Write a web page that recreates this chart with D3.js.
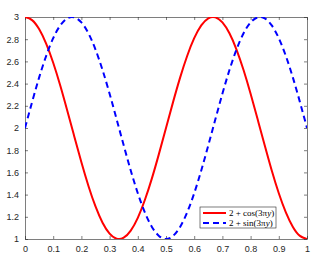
<!DOCTYPE html>
<html>
<head>
<meta charset="utf-8">
<script src="https://cdn.jsdelivr.net/npm/d3@7"></script>
<style>
  body { margin: 0; background: #fff; }
  svg { display: block; }
  .tick text { font-family: "Liberation Sans", Arial, sans-serif; font-size: 9px; fill: #262626; }
</style>
</head>
<body>
<div id="chart"></div>
<script>
// sample positions and values
var xs = [0, 0.025, 0.05, 0.075, 0.1, 0.125, 0.15, 0.175, 0.2, 0.225, 0.25, 0.275, 0.3, 0.325, 0.35, 0.375, 0.4,
  0.425, 0.45, 0.475, 0.5, 0.525, 0.55, 0.575, 0.6, 0.625, 0.65, 0.675, 0.7, 0.725, 0.75, 0.775, 0.8,
  0.825, 0.85, 0.875, 0.9, 0.925, 0.95, 0.975, 1];
var cosVals = [3.000, 2.972, 2.891, 2.760, 2.588, 2.383, 2.156, 1.922, 1.691, 1.478, 1.293, 1.147, 1.049, 1.003,
  1.012, 1.076, 1.191, 1.351, 1.546, 1.767, 2.000, 2.233, 2.454, 2.649, 2.809, 2.924, 2.988, 2.997, 2.951,
  2.853, 2.707, 2.522, 2.309, 2.078, 1.844, 1.617, 1.412, 1.240, 1.109, 1.028, 1.000];
var sinVals = [2.000, 2.233, 2.454, 2.649, 2.809, 2.924, 2.988, 2.997, 2.951, 2.853, 2.707, 2.522, 2.309, 2.078,
  1.844, 1.617, 1.412, 1.240, 1.109, 1.028, 1.000, 1.028, 1.109, 1.240, 1.412, 1.617, 1.844, 2.078, 2.309,
  2.522, 2.707, 2.853, 2.951, 2.997, 2.988, 2.924, 2.809, 2.649, 2.454, 2.233, 2.000];
var xTicks = [0, 0.1, 0.2, 0.3, 0.4, 0.5, 0.6, 0.7, 0.8, 0.9, 1];
var yTicks = [1, 1.2, 1.4, 1.6, 1.8, 2, 2.2, 2.4, 2.6, 2.8, 3];

var width = 327, height = 267;
var margin = { top: 17, right: 20, bottom: 28, left: 25 };
var w = width - margin.left - margin.right,
    h = height - margin.top - margin.bottom;

var svg = d3.select("#chart").append("svg")
  .attr("width", width)
  .attr("height", height);

var g = svg.append("g")
  .attr("transform", "translate(" + margin.left + "," + margin.top + ")");

var x = d3.scaleLinear().domain([0, 1]).range([0, w]);
var y = d3.scaleLinear().domain([1, 3]).range([h, 0]);

function fmt(d) { return d3.format("")(+d.toFixed(1)); }

// axes, ticks point inwards like the original
g.append("g")
  .attr("transform", "translate(0," + h + ")")
  .call(d3.axisBottom(x).tickValues(xTicks).tickSizeInner(-3).tickSizeOuter(0).tickPadding(7).tickFormat(fmt));
g.append("g")
  .call(d3.axisTop(x).tickValues(xTicks).tickSizeInner(-3).tickSizeOuter(0).tickFormat(""));
g.append("g")
  .call(d3.axisLeft(y).tickValues(yTicks).tickSizeInner(-3).tickSizeOuter(0).tickPadding(6).tickFormat(fmt));
g.append("g")
  .attr("transform", "translate(" + w + ",0)")
  .call(d3.axisRight(y).tickValues(yTicks).tickSizeInner(-3).tickSizeOuter(0).tickFormat(""));

g.selectAll(".domain, .tick line").attr("stroke", "#262626").attr("stroke-width", 0.6);

g.append("clipPath").attr("id", "clip")
  .append("rect").attr("width", w).attr("height", h);

var line = d3.line()
  .x(function (d) { return x(d[0]); })
  .y(function (d) { return y(d[1]); })
  .curve(d3.curveNatural);

var series = [
  { vals: cosVals, color: "#ff0000", dash: null },
  { vals: sinVals, color: "#0000ff", dash: "6,4" }
];

g.selectAll(".series")
  .data(series)
  .enter().append("path")
  .attr("class", "series")
  .attr("clip-path", "url(#clip)")
  .attr("fill", "none")
  .attr("stroke", function (s) { return s.color; })
  .attr("stroke-width", 2)
  .attr("stroke-dasharray", function (s) { return s.dash; })
  .attr("d", function (s) { return line(xs.map(function (v, i) { return [v, s.vals[i]]; })); });

// legend
var lg = svg.append("g").attr("transform", "translate(200,207)");
lg.append("rect")
  .attr("width", 76).attr("height", 21)
  .attr("fill", "#fff").attr("stroke", "#262626").attr("stroke-width", 0.6);

var labels = [["cos", series[0]], ["sin", series[1]]];
labels.forEach(function (l, i) {
  var yy = 6 + i * 10;
  lg.append("line")
    .attr("x1", 3).attr("x2", 26).attr("y1", yy).attr("y2", yy)
    .attr("stroke", l[1].color).attr("stroke-width", 2)
    .attr("stroke-dasharray", l[1].dash);
  var t = lg.append("text")
    .attr("x", 29).attr("y", yy + 3)
    .attr("font-family", "'Liberation Serif', 'DejaVu Serif', serif")
    .attr("font-size", 9).attr("fill", "#000");
  t.append("tspan").text("2 + " + l[0] + "(3π");
  t.append("tspan").attr("font-style", "italic").text("y");
  t.append("tspan").text(")");
});
</script>
</body>
</html>
